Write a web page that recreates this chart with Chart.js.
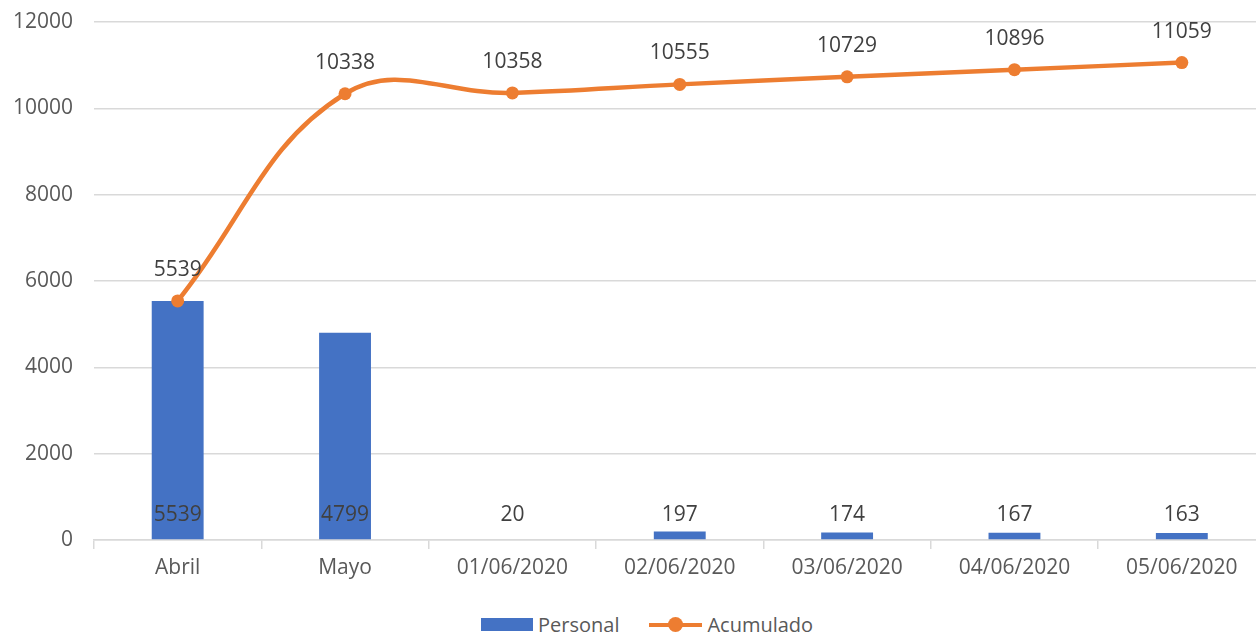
<!DOCTYPE html>
<html>
<head>
<meta charset="utf-8">
<script src="https://cdn.jsdelivr.net/npm/chart.js@4/dist/chart.umd.min.js"></script>
<style>
  html, body { margin: 0; padding: 0; background: #fff; overflow: hidden; }
  #wrap { position: relative; width: 1272px; height: 590px; }
  .legend {
    position: absolute; top: 611px; left: 481px;
    font-family: "Open Sans", sans-serif; font-size: 20px; color: #595959;
    display: flex; align-items: center; white-space: nowrap;
  }
  .legend .box { width: 52px; height: 13px; background: #4472C4; margin-right: 5px; }
  .legend .line { position: relative; width: 53px; height: 4px; background: #ED7D31; margin: 0 5px 0 30px; }
  .legend .line::after {
    content: ""; position: absolute; left: 19px; top: -6px; width: 15px; height: 15px;
    border-radius: 50%; background: #ED7D31;
  }
</style>
</head>
<body>
<div id="wrap"><canvas id="grafico" width="1272" height="590"></canvas></div>
<div class="legend">
  <span class="box"></span><span>Personal</span>
  <span class="line"></span><span>Acumulado</span>
</div>
<script>
const categorias = ["Abril", "Mayo", "01/06/2020", "02/06/2020", "03/06/2020", "04/06/2020", "05/06/2020"];
const personal = [5539, 4799, 20, 197, 174, 167, 163];
const acumulado = [5539, 10338, 10358, 10555, 10729, 10896, 11059];

const fuente = { family: "Open Sans", size: 21 };

// etiquetas de valor: barras abajo, línea encima de cada punto
const etiquetas = {
  id: "etiquetas",
  afterDatasetsDraw(chart) {
    const ctx = chart.ctx;
    ctx.save();
    ctx.font = "21px 'Open Sans'";
    ctx.fillStyle = "#404040";
    ctx.textAlign = "center";
    ctx.textBaseline = "middle";
    const yBase = chart.scales.y.getPixelForValue(0);
    chart.getDatasetMeta(1).data.forEach((el, i) => {
      ctx.fillText(String(personal[i]), el.x, yBase - 25);
    });
    chart.getDatasetMeta(0).data.forEach((el, i) => {
      ctx.fillText(String(acumulado[i]), el.x, el.y - 31);
    });
    ctx.restore();
  }
};

new Chart(document.getElementById("grafico"), {
  data: {
    labels: categorias,
    datasets: [
      {
        type: "line",
        label: "Acumulado",
        data: acumulado,
        borderColor: "#ED7D31",
        backgroundColor: "#ED7D31",
        borderWidth: 4.5,
        pointRadius: 6.5,
        pointBackgroundColor: "#ED7D31",
        pointBorderWidth: 0,
        tension: 0.4,
        order: 0
      },
      {
        type: "bar",
        label: "Personal",
        data: personal,
        backgroundColor: "#4472C4",
        barPercentage: 0.31,
        categoryPercentage: 1,
        order: 1
      }
    ]
  },
  options: {
    responsive: false,
    animation: false,
    layout: { padding: { top: 22, right: 0, left: 0, bottom: 0 } },
    plugins: {
      legend: { display: false },
      tooltip: { enabled: false }
    },
    scales: {
      x: {
        offset: true,
        grid: {
          offset: true,
          drawOnChartArea: false,
          drawTicks: true,
          tickLength: 9,
          color: "#d9d9d9",
          lineWidth: 1.5
        },
        border: { color: "#d9d9d9", width: 1.5 },
        ticks: { font: fuente, color: "#595959", padding: 6, maxRotation: 0 },
        afterFit(scale) {
          scale.height = 50;
          scale.paddingLeft = 0;
          scale.paddingRight = 0;
        }
      },
      y: {
        min: 0,
        max: 12000,
        ticks: {
          stepSize: 2000, font: fuente, color: "#595959", padding: 21,
          callback: (v) => String(v)
        },
        grid: { color: "#d9d9d9", lineWidth: 1.5, drawTicks: false },
        border: { display: false },
        afterFit(scale) {
          scale.width = 94;
          scale.paddingTop = 0;
          scale.paddingBottom = 0;
        }
      }
    }
  },
  plugins: [etiquetas]
});
</script>
</body>
</html>
